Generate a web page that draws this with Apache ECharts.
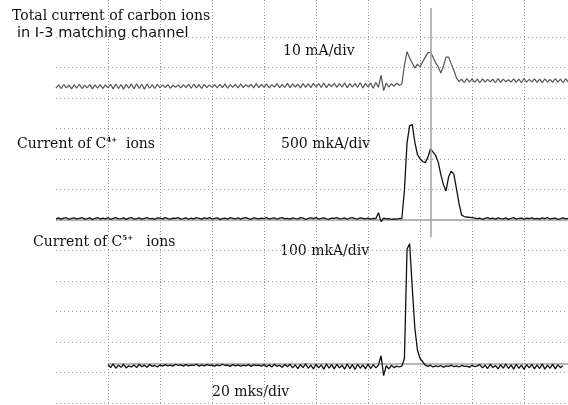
<!DOCTYPE html>
<html>
<head>
<meta charset="utf-8">
<script src="https://cdn.jsdelivr.net/npm/echarts@6/dist/echarts.min.js"></script>
<style>
  html, body { margin: 0; padding: 0; background: #fff; }
  #chart { width: 568px; height: 405px; }
</style>
</head>
<body>
<div id="chart"></div>
<script>
/* Oscillogram of carbon ion currents, three traces on a shared 20 mks/div time base. */

// time base: one sample per mks, traces 1 and 2 start at 0 mks, trace 3 at 20 mks
const totalStart = 0;
const c4Start = 0;
const c5Start = 20;

// total current of carbon ions, mA (10 mA/div)
const totalCurrent = [
  3.2, 4.3, 3.1, 4.4, 3.3, 4.2, 3.0, 4.3, 3.2, 4.5,
  3.1, 4.2, 3.3, 4.4, 3.0, 4.3, 3.2, 4.4, 3.1, 4.3,
  3.3, 4.5, 3.0, 4.6, 3.1, 4.4, 2.9, 4.5, 3.2, 4.6,
  3.0, 4.7, 3.1, 4.5, 2.9, 4.6, 3.2, 4.4, 3.1, 4.5,
  3.3, 4.3, 3.4, 4.4, 3.2, 4.2, 3.5, 4.3, 3.3, 4.4,
  3.4, 4.5, 3.2, 4.6, 3.3, 4.4, 3.1, 4.5, 3.4, 4.3,
  3.5, 4.4, 3.3, 4.5, 3.4, 4.6, 3.2, 4.4, 3.5, 4.5,
  3.3, 4.6, 3.4, 4.4, 3.6, 4.5, 3.3, 4.7, 3.4, 4.5,
  3.5, 4.6, 3.3, 4.4, 3.6, 4.7, 3.4, 4.5, 3.5, 4.8,
  3.4, 4.6, 3.6, 4.5, 3.3, 4.7, 3.5, 4.6, 3.4, 4.8,
  3.6, 4.7, 3.5, 4.9, 3.4, 4.6, 3.7, 4.8, 3.5, 4.7,
  3.6, 4.9, 3.4, 4.7, 3.6, 4.8, 3.5, 5.0, 3.3, 4.8,
  3.6, 4.9, 3.2, 5.1, 3.5,
  7.5, 2.4,
  4.9, 3.6, 4.7, 3.8, 4.9, 4.2,
  4.6, 10.8, 15.2, 13.1, 11.5, 9.8, 11.1, 10.2, 11.8, 13.4,
  14.8, 15.1, 13.4, 11.5, 10.2, 8.2, 10.5, 13.4, 13.4, 11.1,
  9.2, 6.6, 5.4,
  6.2, 5.0, 6.4, 5.2, 6.3, 5.1, 6.2, 5.0, 6.3, 5.2,
  6.1, 5.3, 6.2, 5.0, 6.4, 5.1, 6.2, 5.3, 6.0, 5.2,
  6.3, 5.1, 6.2, 5.0, 6.4, 5.2, 6.1, 5.3, 6.3, 5.1,
  6.2, 5.0, 6.3, 5.2, 6.1, 5.1, 6.4, 5.2, 6.2, 5.0, 6.3, 5.2
];

// current of C4+ ions, mkA (500 mkA/div)
const c4Current = [
  20, 35, 15, 30, 38, 12, 25, 36, 18, 28,
  40, 14, 22, 34, 10, 26, 38, 16, 30, 20,
  36, 12, 28, 40, 18, 24, 34, 10, 30, 38,
  16, 22, 36, 14, 28, 40, 20, 26, 12, 34,
  30, 18, 38, 22, 14, 32, 26, 40, 16, 24,
  36, 12, 30, 20, 38, 26, 14, 34, 22, 40,
  18, 28, 36, 10, 24, 32, 16, 38, 26, 20,
  34, 14, 30, 40, 22, 12, 36, 28, 18, 32,
  24, 38, 16, 26, 34, 12, 30, 40, 20, 28,
  14, 36, 24, 18, 38, 30, 12, 26, 34, 22,
  40, 16, 28, 36, 20, 14, 32, 26, 38, 18,
  24, 34, 12, 30, 40, 22, 16, 36, 28, 20,
  32, 14, 26, 22,
  120, -25,
  30, 18, 24, 12, 20, 16, 22,
  21, 492, 1264, 1548, 1563, 1276, 1071, 1005, 959, 940,
  1027, 1164, 1112, 1058, 945, 743, 579, 476, 710, 802,
  751, 513, 267, 79, 57, 49, 44, 38, 30, 21,
  32, 12, 26, 38, 18, 30, 14, 36, 24, 20,
  34, 10, 28, 38, 16, 26, 32, 12, 30, 22,
  36, 18, 28, 14, 34, 24, 38, 16, 26, 30,
  12, 22, 36, 20, 28
];

// current of C5+ ions, mkA (100 mkA/div)
const c5Current = [
  -4, -14, -2, -16, -6, -13, -3, -15, -8, -12,
  -5, -14, -3, -11, -6, -13, -4, -10, -7, -12,
  -5, -9, -4, -8, -6, -9, -3, -7, -5, -9,
  -4, -8, -6, -7, -3, -9, -5, -8, -4, -7,
  -6, -9, -5, -8, -3, -7, -6, -10, -4, -8,
  -5, -9, -6, -8, -4, -10, -5, -7, -6, -9,
  -4, -11, -5, -12, -3, -10, -6, -13, -4, -11,
  -3, -15, -5, -17, -4, -14, -2, -16, -6, -18,
  -3, -15, -5, -19, -2, -16, -4, -18, -3, -15,
  -6, -19, -2, -17, -4, -20, -3, -16, -5, -18,
  -2, -17, -4, -15, -6,
  25, -40,
  -8, -18, -6, -14, -9, -12,
  -9, 16, 375, 392, 249, 116, 43, 16, 6, -6,
  -10, -6, -12, -8, -11, -7, -13, -8, -10, -6,
  -11, -8, -12, -7, -10, -9, -13, -6, -11, -8,
  -4, -15, -6, -17, -3, -14, -7, -18, -4, -16,
  -2, -17, -5, -19, -3, -16, -6, -20, -4, -15,
  -3, -18, -5, -17, -2, -19, -6, -16, -3, -18,
  -5, -14, -8
];

// cursor marker: time (mks) and its extent in screen divisions (0 at bottom edge)
const cursorTime = 144.1;
const cursorSpan = [13.02, 5.5];

const labelTotal1 = "Total current of carbon ions";
const labelTotal2 = "in I-3 matching channel";
const scaleTotal = "10 mA/div";
const scaleC4 = "500 mkA/div";
const scaleC5 = "100 mkA/div";
const timeScale = "20 mks/div";

function toPairs(values, t0) {
  return values.map(function (v, i) { return [t0 + i, v]; });
}

const chart = echarts.init(document.getElementById("chart"), null, { renderer: "canvas" });

const serif = "DejaVu Serif";
const ink = "#111";
const dots = "#999";
const refGray = "#a0a0a0";

function textEl(x, y, text, extra) {
  return {
    type: "text", x: x, y: y, silent: true,
    style: Object.assign({
      text: text, fill: ink, fontFamily: serif, fontSize: 14,
      align: "left", verticalAlign: "middle"
    }, extra || {})
  };
}

function ionLabel(x, y, charge, gap) {
  return textEl(x, y, "{a|Current of C}{s|" + charge + "}{a|" + gap + "ions}", {
    rich: {
      a: { fontFamily: serif, fontSize: 14, fill: ink },
      s: { fontFamily: serif, fontSize: 7, fontWeight: "bold", fill: ink, verticalAlign: "top" }
    }
  });
}

chart.setOption({
  animation: false,
  backgroundColor: "#fff",
  grid: [
    { left: 56, right: 0, top: 0, bottom: 0 },
    { left: 56, right: 0, top: 37, bottom: 2 }
  ],
  xAxis: [
    {
      type: "value", gridIndex: 0, min: 0, max: 196.9, interval: 20,
      axisLine: { show: false }, axisTick: { show: false }, axisLabel: { show: false },
      splitLine: { show: true, showMinLine: false, showMaxLine: false,
        lineStyle: { color: dots, width: 1, type: [1, 2] } }
    },
    {
      type: "value", gridIndex: 1, min: 0, max: 196.9, show: false
    }
  ],
  yAxis: [
    { type: "value", gridIndex: 0, min: 0, max: 13.28, show: false },
    {
      type: "value", gridIndex: 1, min: -100, max: 20, interval: 10,
      axisLine: { show: false }, axisTick: { show: false }, axisLabel: { show: false },
      splitLine: { show: true, lineStyle: { color: dots, width: 1, type: [1, 3] } }
    },
    { type: "value", gridIndex: 1, min: -3000, max: 3000, show: false },
    { type: "value", gridIndex: 1, min: -130, max: 1070, show: false }
  ],
  series: [
    {
      name: "cursor", type: "line", xAxisIndex: 0, yAxisIndex: 0, data: [],
      markLine: {
        silent: true, symbol: "none", label: { show: false },
        lineStyle: { color: refGray, width: 1.5, type: "solid" },
        data: [[{ coord: [cursorTime, cursorSpan[0]] }, { coord: [cursorTime, cursorSpan[1]] }]]
      }
    },
    {
      name: "Total current", type: "line", xAxisIndex: 1, yAxisIndex: 1,
      data: toPairs(totalCurrent, totalStart),
      showSymbol: false, symbol: "none", z: 3,
      lineStyle: { color: "#555", width: 1.2 }
    },
    {
      name: "C4+", type: "line", xAxisIndex: 1, yAxisIndex: 2,
      data: toPairs(c4Current, c4Start),
      showSymbol: false, symbol: "none", z: 3,
      lineStyle: { color: ink, width: 1.3 },
      markLine: {
        silent: true, symbol: "none", label: { show: false }, z: 1,
        lineStyle: { color: refGray, width: 1.5, type: "solid" },
        data: [{ yAxis: 0 }]
      }
    },
    {
      name: "C5+", type: "line", xAxisIndex: 1, yAxisIndex: 3,
      data: toPairs(c5Current, c5Start),
      showSymbol: false, symbol: "none", z: 3,
      lineStyle: { color: ink, width: 1.3 },
      markLine: {
        silent: true, symbol: "none", label: { show: false }, z: 1,
        lineStyle: { color: refGray, width: 1.5, type: "solid" },
        data: [[{ coord: [c5Start, 0] }, { coord: [196.9, 0] }]]
      }
    }
  ],
  graphic: [
    textEl(12, 16, labelTotal1),
    textEl(17, 33, labelTotal2, { fontFamily: "DejaVu Sans", fontSize: 14.5 }),
    textEl(283, 51, scaleTotal),
    ionLabel(17, 144, "4+", "  "),
    textEl(281, 144, scaleC4),
    ionLabel(33, 242, "5+", "   "),
    textEl(280, 251, scaleC5),
    textEl(212, 392, timeScale)
  ]
});
</script>
</body>
</html>
